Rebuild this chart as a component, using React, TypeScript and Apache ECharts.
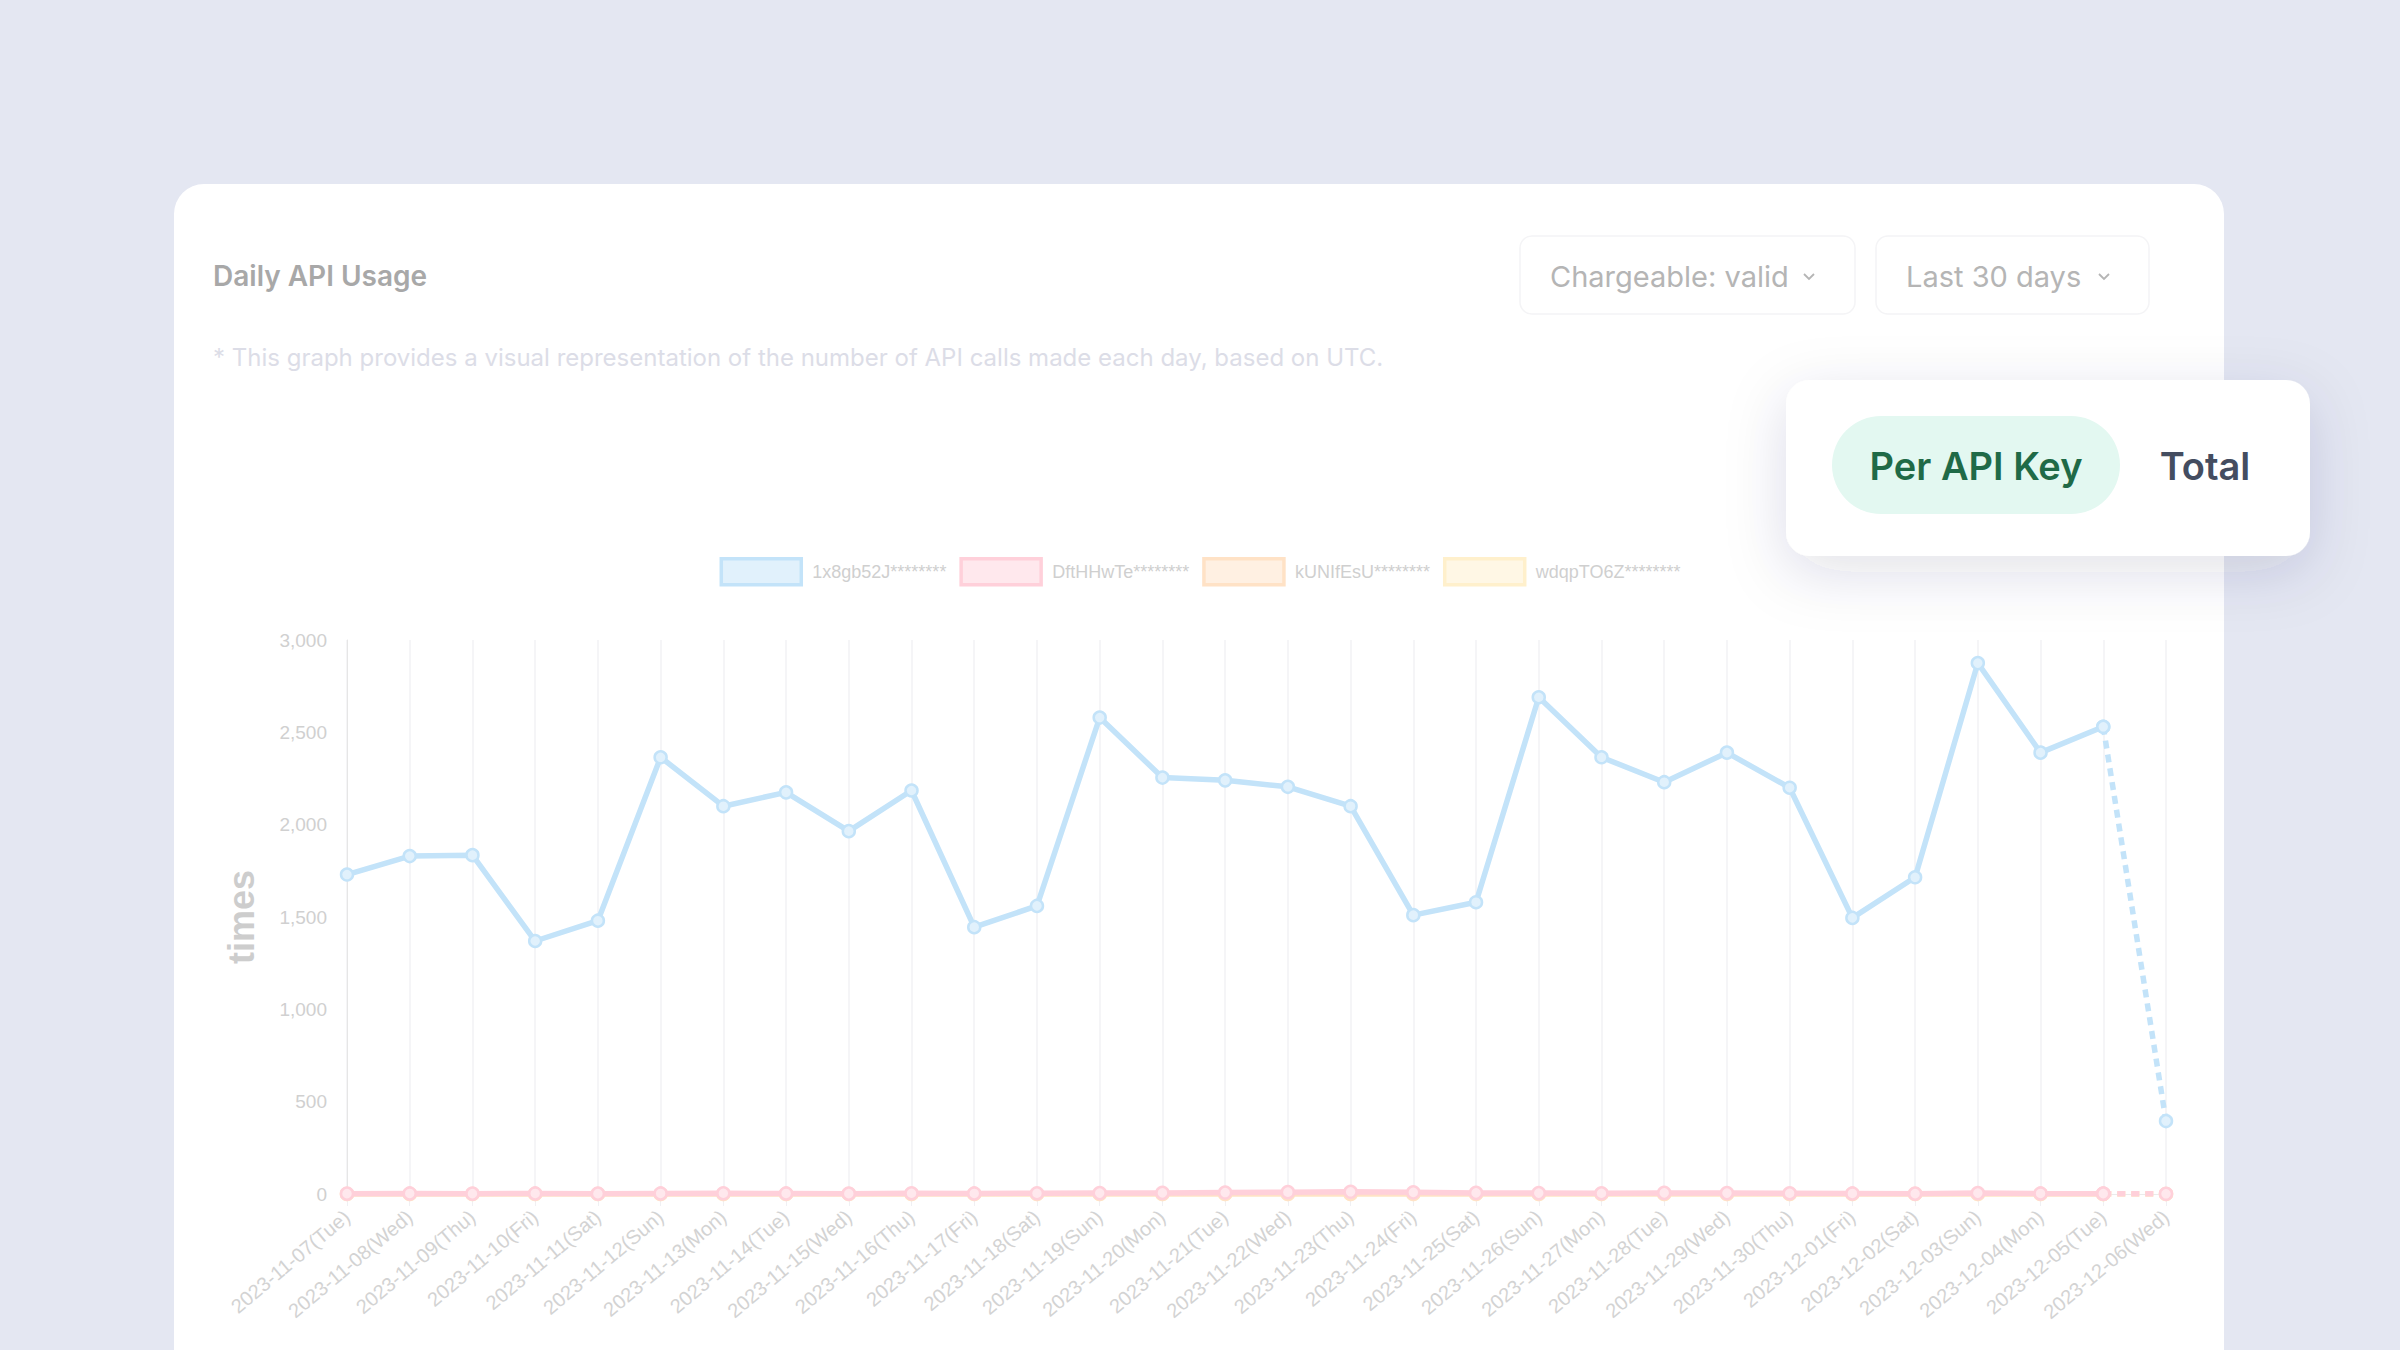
import React, { useEffect, useRef } from "react";
import * as echarts from "echarts";

const dates = [
  "2023-11-07(Tue)", "2023-11-08(Wed)", "2023-11-09(Thu)", "2023-11-10(Fri)", "2023-11-11(Sat)",
  "2023-11-12(Sun)", "2023-11-13(Mon)", "2023-11-14(Tue)", "2023-11-15(Wed)", "2023-11-16(Thu)",
  "2023-11-17(Fri)", "2023-11-18(Sat)", "2023-11-19(Sun)", "2023-11-20(Mon)", "2023-11-21(Tue)",
  "2023-11-22(Wed)", "2023-11-23(Thu)", "2023-11-24(Fri)", "2023-11-25(Sat)", "2023-11-26(Sun)",
  "2023-11-27(Mon)", "2023-11-28(Tue)", "2023-11-29(Wed)", "2023-11-30(Thu)", "2023-12-01(Fri)",
  "2023-12-02(Sat)", "2023-12-03(Sun)", "2023-12-04(Mon)", "2023-12-05(Tue)", "2023-12-06(Wed)",
];

const keyNames = ["1x8gb52J********", "DftHHwTe********", "kUNIfEsU********", "wdqpTO6Z********"];

const key1Values = [1730, 1830, 1835, 1370, 1480, 2365, 2100, 2175, 1965, 2185, 1445, 1560, 2580, 2255, 2240, 2205, 2100, 1510, 1580, 2690, 2365, 2230, 2390, 2200, 1495, 1715, 2875, 2390, 2530, 395];
const key2Values = [2, 3, 2, 3, 2, 3, 4, 3, 2, 4, 3, 4, 5, 6, 8, 10, 12, 9, 6, 5, 4, 6, 5, 4, 3, 2, 5, 3, 2, 1];
const key3Values = [0, 0, 0, 0, 0, 0, 0, 0, 0, 0, 0, 0, 0, 0, 0, 0, 0, 0, 0, 0, 0, 0, 0, 0, 0, 0, 0, 0, 0, 0];
const key4Values = [0, 0, 0, 0, 0, 0, 0, 0, 0, 0, 0, 0, 0, 0, 0, 0, 0, 0, 0, 0, 0, 0, 0, 0, 0, 0, 0, 0, 0, 0];

const yTicks = { min: 0, max: 3000, interval: 500 };

const lineColors = ["#c3e3f9", "#ffd0da", "#ffe2c6", "#fff0cc"];
const fillColors = ["#e1f1fc", "#ffe8ed", "#fff0e2", "#fff7e5"];
const zOrder = [3, 4, 2, 1];

export default function App() {
  const ref = useRef<HTMLDivElement>(null);

  useEffect(() => {
    if (!ref.current) return;
    const chart = echarts.init(ref.current, undefined, { renderer: "svg" });
    const allValues = [key1Values, key2Values, key3Values, key4Values];
    const n = dates.length;

    const series: any[] = [];
    allValues.forEach((vals, k) => {
      const common = {
        type: "line",
        name: keyNames[k],
        symbol: "circle",
        symbolSize: 12,
        showAllSymbol: true,
        z: zOrder[k],
        emphasis: { disabled: true },
        itemStyle: { color: fillColors[k], borderColor: lineColors[k], borderWidth: 2.5 },
      };
      series.push({
        ...common,
        data: vals.map((v, i) => (i < n - 1 ? v : "-")),
        lineStyle: { color: lineColors[k], width: 5.5 },
      });
      series.push({
        ...common,
        data: vals.map((v, i) => (i >= n - 2 ? v : "-")),
        lineStyle: { color: lineColors[k], width: 5.5, type: [8, 6] },
      });
    });

    const txt = (x: number, y: number, text: string, size: number, weight: any, fill: string, align = "left", z = 1) => ({
      type: "text",
      x,
      y,
      z,
      style: {
        text,
        fontSize: size,
        fontWeight: weight,
        fontFamily: "Inter",
        fill,
        align,
        verticalAlign: "middle",
      },
    });

    const option: any = {
      animation: false,
      graphic: [
        { type: "rect", z: -20, shape: { x: 0, y: 0, width: 2400, height: 1350 }, style: { fill: "#e4e7f2" } },
        { type: "rect", z: -10, shape: { x: 174, y: 184, width: 2050, height: 1250, r: 30 }, style: { fill: "#ffffff" } },
        txt(213, 276, "Daily API Usage", 28, 600, "#a8a8a8"),
        txt(213, 357, "* This graph provides a visual representation of the number of API calls made each day, based on UTC.", 24, 400, "#dcdde7"),
        { type: "rect", z: 1, shape: { x: 1520, y: 236, width: 335, height: 78, r: 12 }, style: { fill: "#ffffff", stroke: "#f4f4f6", lineWidth: 1.5 } },
        txt(1550, 276, "Chargeable: valid", 29, 400, "#b5b5b5", "left", 2),
        { type: "polyline", z: 2, shape: { points: [[1804, 274], [1809, 279], [1814, 274]] }, style: { stroke: "#b5b5b5", lineWidth: 1.8, fill: null } },
        { type: "rect", z: 1, shape: { x: 1876, y: 236, width: 273, height: 78, r: 12 }, style: { fill: "#ffffff", stroke: "#f4f4f6", lineWidth: 1.5 } },
        txt(1906, 276, "Last 30 days", 29, 400, "#b5b5b5", "left", 2),
        { type: "polyline", z: 2, shape: { points: [[2099, 274], [2104, 279], [2109, 274]] }, style: { stroke: "#b5b5b5", lineWidth: 1.8, fill: null } },
        {
          type: "rect", z: 100,
          shape: { x: 1786, y: 380, width: 524, height: 176, r: 24 },
          style: { fill: "#ffffff", shadowBlur: 60, shadowColor: "rgba(40,50,90,0.14)", shadowOffsetY: 16 },
        },
        { type: "rect", z: 101, shape: { x: 1832, y: 416, width: 288, height: 98, r: 49 }, style: { fill: "#e3f8f1" } },
        txt(1976, 466, "Per API Key", 38, 600, "#1f6a47", "center", 102),
        txt(2205, 466, "Total", 38, 600, "#444d60", "center", 102),
      ],
      legend: {
        top: 552,
        left: "center",
        itemWidth: 80,
        itemHeight: 26,
        itemGap: 13,
        textStyle: { fontSize: 18, color: "#cfcfcf", fontFamily: "Liberation Sans", padding: [0, 0, 0, 6] },
        selectedMode: false,
        data: keyNames.map((name, k) => ({
          name,
          icon: "rect",
          itemStyle: { color: fillColors[k], borderColor: lineColors[k], borderWidth: 3.5 },
        })),
      },
      grid: { left: 347, top: 640, width: 1819, height: 554 },
      xAxis: {
        type: "category",
        boundaryGap: false,
        data: dates,
        axisLine: { lineStyle: { color: "#ebebeb" } },
        axisTick: { show: true, length: 12, lineStyle: { color: "#f0f0f3" } },
        splitLine: { show: true, lineStyle: { color: "#f2f2f5", width: 1.5 } },
        axisLabel: {
          interval: 0,
          rotate: 40,
          margin: 20,
          fontSize: 20,
          color: "#d3d3d3",
          fontFamily: "Liberation Sans",
        },
      },
      yAxis: {
        type: "value",
        min: yTicks.min,
        max: yTicks.max,
        interval: yTicks.interval,
        name: "times",
        nameLocation: "middle",
        nameGap: 88,
        nameTextStyle: { fontSize: 36, fontWeight: "bold", color: "#cdcdcd", fontFamily: "Liberation Sans" },
        axisLine: { show: true, lineStyle: { color: "#e6e6e6" } },
        axisTick: { show: false },
        splitLine: { show: false },
        axisLabel: {
          margin: 20,
          fontSize: 19,
          color: "#d0d0d0",
          fontFamily: "Liberation Sans",
          formatter: (v: number) => v.toLocaleString("en-US"),
        },
      },
      series,
    };
    chart.setOption(option);
    return () => chart.dispose();
  }, []);

  return <div ref={ref} style={{ position: "absolute", left: 0, top: 0, width: 2400, height: 1350 }} />;
}
